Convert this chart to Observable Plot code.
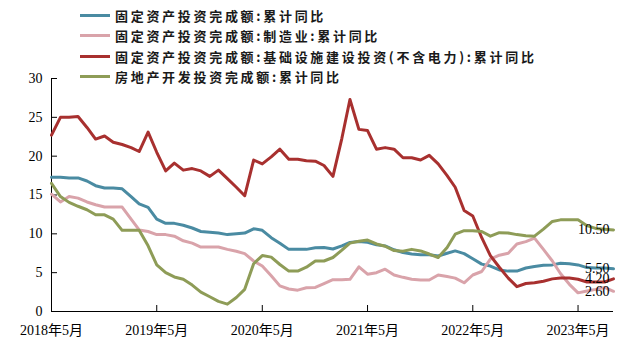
<!DOCTYPE html>
<html><head><meta charset="utf-8">
<script src="https://cdn.jsdelivr.net/npm/d3@7"></script>
<script src="https://cdn.jsdelivr.net/npm/@observablehq/plot@0.6"></script>
<style>
html,body{margin:0;padding:0;background:#fff;}
#wrap{position:relative;width:637px;height:361px;overflow:hidden;background:#fff;}
#legend{position:absolute;left:0;top:0;z-index:2;font-family:"Noto Sans CJK SC",sans-serif;font-weight:bold;font-size:13px;letter-spacing:2.7px;color:#1a1a1a;}
.row{position:absolute;left:80px;height:20px;display:flex;align-items:center;white-space:nowrap;}
.sw{width:30px;height:3px;margin-right:5px;flex:none;}
</style></head><body><div id="wrap"><div id="legend"></div></div>
<script>
// Series names (legend order)
const seriesNames = [
  "固定资产投资完成额:累计同比",
  "固定资产投资完成额:制造业:累计同比",
  "固定资产投资完成额:基础设施建设投资(不含电力):累计同比",
  "房地产开发投资完成额:累计同比"
];
const seriesColors = ["#4a8ba2", "#d9a3aa", "#a8302f", "#8e9c57"];

// Monthly dates: 2018-05 .. 2023-09
const months = d3.utcMonth.range(new Date(Date.UTC(2018, 4, 1)), new Date(Date.UTC(2023, 9, 1)));

const fai = [17.3,17.3,17.2,17.2,16.8,16.2,15.9,15.9,15.8,14.8,13.85,13.4,11.9,11.35,11.35,11.1,10.75,10.3,10.2,10.1,9.9,10.0,10.1,10.65,10.45,9.5,8.8,8.0,8.0,8.0,8.2,8.25,8.05,8.45,8.9,9.0,8.9,8.6,8.45,7.95,7.6,7.4,7.3,7.3,7.15,7.5,7.8,7.45,6.8,6.1,5.85,5.35,5.2,5.2,5.6,5.8,5.95,6.0,6.2,6.15,6.0,5.65,5.6,5.6,5.5];
const manufacturing = [15.1,14.1,14.8,14.6,14.1,13.75,13.45,13.45,13.45,11.9,10.5,10.3,9.9,9.9,9.7,9.1,8.8,8.3,8.3,8.3,8.0,7.75,7.45,6.5,5.85,4.6,3.3,2.9,2.75,3.05,3.1,3.6,4.1,4.1,4.15,5.75,4.8,5.0,5.45,4.7,4.4,4.15,4.05,4.05,4.7,4.5,4.3,3.7,4.7,5.15,6.75,7.25,7.5,8.7,9.0,9.45,8.0,6.5,4.9,3.5,2.4,2.65,2.85,3.1,2.6];
const infrastructure = [22.7,25.0,25.0,25.1,23.7,22.2,22.6,21.8,21.5,21.1,20.6,23.1,20.5,18.1,19.1,18.2,18.4,18.1,17.4,18.2,17.1,16.0,14.9,19.5,19.0,19.9,20.9,19.6,19.6,19.4,19.35,18.8,17.4,22.3,27.3,23.45,23.3,20.9,21.1,20.9,19.8,19.8,19.5,20.1,19.0,17.5,16.0,13.0,12.3,9.5,7.2,5.7,4.3,3.2,3.6,3.7,3.9,4.2,4.3,4.3,4.15,3.8,3.8,3.8,4.2];
const realEstate = [16.5,14.8,14.05,13.55,13.1,12.45,12.45,11.9,10.45,10.45,10.45,8.45,6.0,5.0,4.45,4.15,3.4,2.5,1.9,1.3,0.95,1.8,2.85,6.15,7.2,7.0,6.05,5.2,5.2,5.7,6.5,6.5,6.95,7.9,8.8,9.05,9.2,8.7,8.4,7.85,7.75,8.0,7.8,7.4,6.95,8.25,9.95,10.4,10.4,10.3,9.7,10.15,10.1,9.9,9.75,9.7,10.6,11.6,11.8,11.8,11.8,11.05,10.7,10.6,10.5];

// End-of-line labels
const endLabels = [5.50, 2.60, 4.20, 10.50];

const yTicks = [0, 5, 10, 15, 20, 25, 30];
// Ticks every 12 months starting 2018-05
const xTicks = d3.utcMonth.range(new Date(Date.UTC(2018, 4, 1)), new Date(Date.UTC(2023, 9, 1)), 12);
const xFmt = d => `${d.getUTCFullYear()}年${d.getUTCMonth() + 1}月`;

const allSeries = [fai, manufacturing, infrastructure, realEstate];
const tables = allSeries.map((vals, si) => vals.map((v, i) => ({date: months[i], v, s: si})));
const lastPts = allSeries.map((vals, si) => ({date: months[vals.length - 1], v: vals[vals.length - 1], label: endLabels[si].toFixed(2)}));

const chart = Plot.plot({
  width: 637, height: 361,
  marginLeft: 51, marginRight: 24, marginTop: 78, marginBottom: 50,
  style: {fontFamily: '"Liberation Serif","Noto Sans CJK SC",serif', fontSize: "14px", color: "#000", background: "#fff", overflow: "visible"},
  x: {type: "utc", domain: [months[0], months[months.length - 1]]},
  y: {domain: [0, 30]},
  marks: [
    Plot.axisY({ticks: yTicks, tickSize: -6, tickPadding: 15, tickFormat: d => String(d), label: null}),
    Plot.axisX({ticks: xTicks, tickSize: -6, tickPadding: 20, tickFormat: xFmt, label: null}),
    Plot.ruleX([months[0]], {stroke: "#000"}),
    Plot.ruleY([0], {stroke: "#000"}),
    ...tables.map((t, si) => Plot.line(t, {x: "date", y: "v", stroke: seriesColors[si], strokeWidth: 3, strokeLinejoin: "round", strokeLinecap: "round"})),
    Plot.text(lastPts, {x: "date", y: "v", text: "label", textAnchor: "end", dx: -4, fill: "#000", fontSize: 14})
  ]
});
const wrap = document.getElementById("wrap");
wrap.insertBefore(chart, wrap.firstChild);

const legend = document.getElementById("legend");
const rowTops = [5, 25.7, 46, 66.7];
seriesNames.forEach((name, i) => {
  const row = document.createElement("div");
  row.className = "row";
  row.style.top = rowTops[i] + "px";
  const sw = document.createElement("div");
  sw.className = "sw";
  sw.style.background = seriesColors[i];
  const tx = document.createElement("span");
  tx.textContent = name;
  row.appendChild(sw);
  row.appendChild(tx);
  legend.appendChild(row);
});
</script></body></html>
